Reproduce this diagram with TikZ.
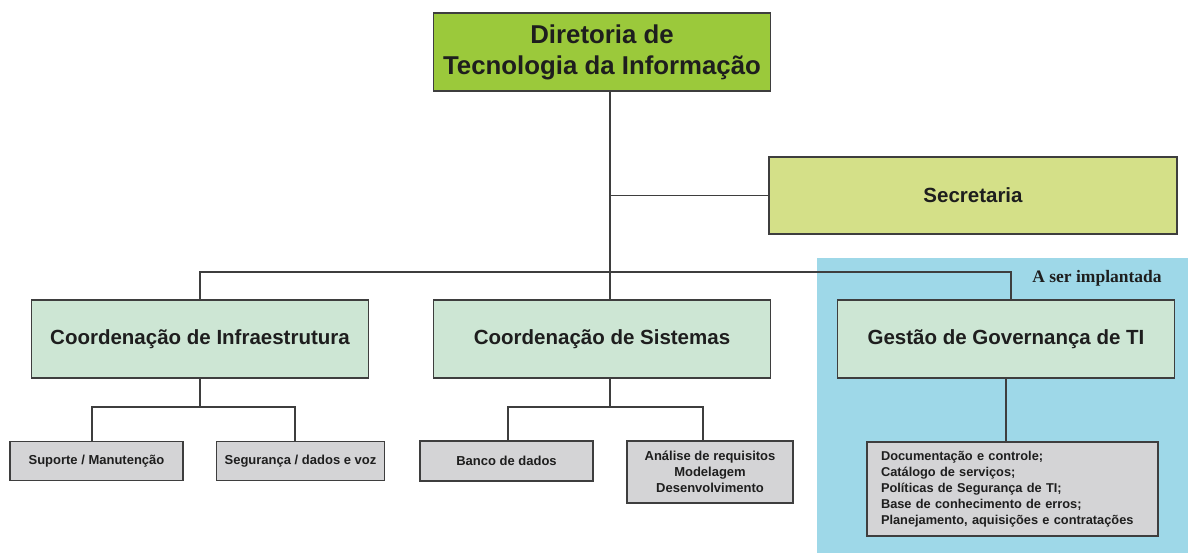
\documentclass[tikz,border=0pt]{standalone}
\usepackage{fontspec}
\setmainfont{Liberation Sans}
\newfontfamily\serifbold{Liberation Serif}
\definecolor{dirgreen}{RGB}{155,201,59}
\definecolor{secgreen}{RGB}{212,224,136}
\definecolor{coordfill}{RGB}{205,230,212}
\definecolor{grayfill}{RGB}{212,212,214}
\definecolor{bluebg}{RGB}{158,216,232}
\definecolor{bordercol}{RGB}{62,62,62}
\definecolor{txtcol}{RGB}{30,30,30}
\begin{document}
\begin{tikzpicture}[x=1pt,y=-1pt,
  box/.style={draw=bordercol, line width=1.3pt, inner sep=0pt, text=txtcol, font=\bfseries, align=center},
  bigbox/.style={box, fill=dirgreen, minimum width=337pt, minimum height=78pt, font=\bfseries\fontsize{25.8}{31}\selectfont},
  secbox/.style={box, fill=secgreen, minimum width=408pt, minimum height=77pt, font=\bfseries\fontsize{20.5}{24}\selectfont},
  coordbox/.style={box, fill=coordfill, minimum width=337pt, minimum height=78pt, font=\bfseries\fontsize{20.5}{24}\selectfont},
  smallbox/.style={box, fill=grayfill, minimum height=39pt, font=\bfseries\fontsize{13}{16}\selectfont},
  conn/.style={draw=bordercol, line width=1.1pt}
]
\useasboundingbox (0,0) rectangle (1188,553);
\fill[white] (0,0) rectangle (1188,553);
\fill[bluebg] (817,258) rectangle (1188,553);

% top
\node[bigbox] (dir) at (602,52) {Diretoria de\\Tecnologia da Informação};
\node[secbox] (sec) at (973,195.5) {Secretaria};
% coordinations
\node[coordbox] (ci) at (200,339) {Coordenação de Infraestrutura};
\node[coordbox] (cs) at (602,339) {Coordenação de Sistemas};
\node[coordbox] (gg) at (1006,339) {Gestão de Governança de TI};
\node[font=\serifbold\bfseries\fontsize{17.5}{20}\selectfont, text=txtcol] (ser) at (1097,278) {A ser implantada};
% leaves
\node[smallbox, minimum width=173pt] (sup) at (96.5,461) {Suporte / Manutenção};
\node[smallbox, minimum width=168pt] (seg) at (300.5,461) {Segurança / dados e voz};
\node[smallbox, minimum width=173pt, minimum height=40pt] (ban) at (506.5,461) {Banco de dados};
\node[smallbox, minimum width=166pt, minimum height=62pt] (ana) at (710,472) {Análise de requisitos\\Modelagem\\Desenvolvimento};
\node[smallbox, minimum width=291pt, minimum height=94pt, text width=263pt, align=left, font=\bfseries\fontsize{12.8}{16}\selectfont] (doc) at (1012.5,489) {Documentação e controle;\\Catálogo de serviços;\\Políticas de Segurança de TI;\\Base de conhecimento de erros;\\Planejamento, aquisições e contratações};

% junction coordinates
\coordinate (tx) at (610,0);
\coordinate (hy) at (0,272);
\coordinate (gx) at (1011,0);
\coordinate (h1) at (0,407);
\coordinate (supx) at (92,0);
\coordinate (segx) at (295,0);
\coordinate (banx) at (508,0);
\coordinate (anax) at (703,0);

% connectors
\draw[conn] (dir.south -| tx) -- (cs.north -| tx);
\draw[conn] (tx |- sec.west) -- (sec.west);
\draw[conn] (ci.north) -- (ci.north |- hy) -- (gx |- hy) -- (gg.north -| gx);
\draw[conn] (ci.south) -- (ci.south |- h1);
\draw[conn] (sup.north -| supx) -- (supx |- h1) -- (segx |- h1) -- (seg.north -| segx);
\draw[conn] (cs.south -| tx) -- (tx |- h1);
\draw[conn] (ban.north -| banx) -- (banx |- h1) -- (anax |- h1) -- (ana.north -| anax);
\draw[conn] (gg.south) -- (doc.north -| gg.south);
\end{tikzpicture}
\end{document}
